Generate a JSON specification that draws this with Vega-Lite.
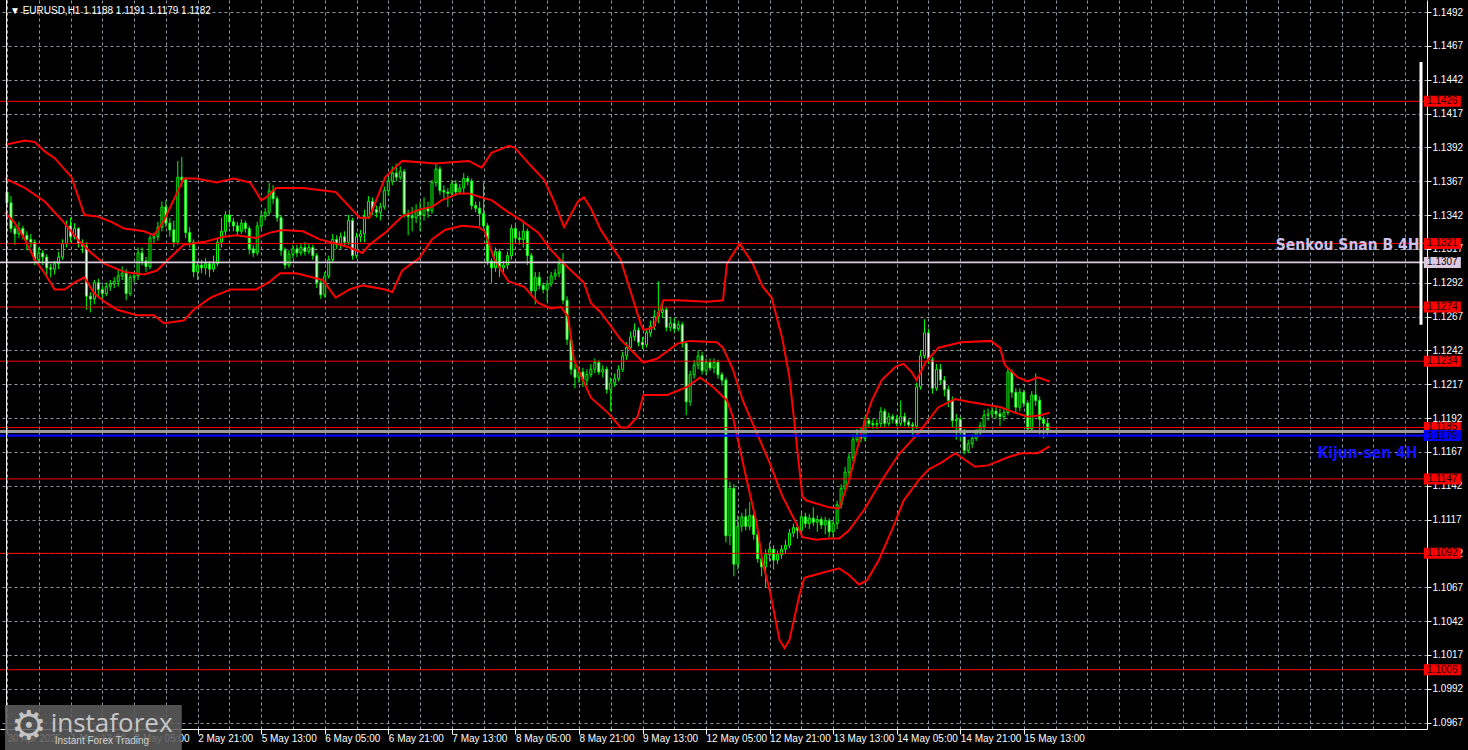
{
  "$schema": "https://vega.github.io/schema/vega-lite/v6.json",
  "width": 1427,
  "height": 729,
  "autosize": {"type": "none"},
  "padding": {"left": 0, "top": 0, "right": 41, "bottom": 21},
  "background": "#000000",
  "config": {
    "view": {"stroke": null},
    "axis": {"labelFont": "Liberation Sans", "labelFontSize": 10, "labelColor": "#ffffff", "domainColor": "#ffffff", "title": null, "labelOverlap": false}
  },
  "datasets": {
    "candles": [
      {"i":0,"o":1.1359,"h":1.1362,"l":1.1348,"c":1.1351},{"i":1,"o":1.1351,"h":1.1356,"l":1.1329,"c":1.1332},{"i":2,"o":1.1332,"h":1.1334,"l":1.132,"c":1.1328},{"i":3,"o":1.1328,"h":1.1337,"l":1.1325,"c":1.1332},{"i":4,"o":1.1332,"h":1.1334,"l":1.1324,"c":1.1327},{"i":5,"o":1.1327,"h":1.133,"l":1.1316,"c":1.1324},{"i":6,"o":1.1324,"h":1.1328,"l":1.1318,"c":1.1322},{"i":7,"o":1.1322,"h":1.1324,"l":1.1305,"c":1.1309},{"i":8,"o":1.1309,"h":1.1318,"l":1.1306,"c":1.1314},{"i":9,"o":1.1314,"h":1.1316,"l":1.1305,"c":1.1311},
      {"i":10,"o":1.1311,"h":1.1313,"l":1.1297,"c":1.1303},{"i":11,"o":1.1303,"h":1.1306,"l":1.1296,"c":1.1302},{"i":12,"o":1.1302,"h":1.1308,"l":1.1298,"c":1.1306},{"i":13,"o":1.1306,"h":1.1315,"l":1.1302,"c":1.1311},{"i":14,"o":1.1311,"h":1.1324,"l":1.1309,"c":1.1321},{"i":15,"o":1.1321,"h":1.1338,"l":1.1318,"c":1.1334},{"i":16,"o":1.1334,"h":1.134,"l":1.1322,"c":1.1326},{"i":17,"o":1.1326,"h":1.1336,"l":1.1324,"c":1.1332},{"i":18,"o":1.1332,"h":1.1333,"l":1.1318,"c":1.1321},{"i":19,"o":1.1321,"h":1.1324,"l":1.1314,"c":1.1319},
      {"i":20,"o":1.1319,"h":1.1322,"l":1.1272,"c":1.1282},{"i":21,"o":1.1282,"h":1.1285,"l":1.127,"c":1.128},{"i":22,"o":1.128,"h":1.1294,"l":1.1276,"c":1.1292},{"i":23,"o":1.1292,"h":1.1295,"l":1.1281,"c":1.1287},{"i":24,"o":1.1287,"h":1.129,"l":1.128,"c":1.1284},{"i":25,"o":1.1284,"h":1.1292,"l":1.1282,"c":1.1289},{"i":26,"o":1.1289,"h":1.1294,"l":1.1286,"c":1.1291},{"i":27,"o":1.1291,"h":1.1296,"l":1.1288,"c":1.1293},{"i":28,"o":1.1293,"h":1.1302,"l":1.1289,"c":1.1297},{"i":29,"o":1.1297,"h":1.1304,"l":1.1294,"c":1.1299},
      {"i":30,"o":1.1299,"h":1.1302,"l":1.1279,"c":1.1284},{"i":31,"o":1.1284,"h":1.1298,"l":1.1282,"c":1.1296},{"i":32,"o":1.1296,"h":1.13,"l":1.1292,"c":1.1297},{"i":33,"o":1.1297,"h":1.1318,"l":1.1294,"c":1.1314},{"i":34,"o":1.1314,"h":1.1318,"l":1.1305,"c":1.1308},{"i":35,"o":1.1308,"h":1.1311,"l":1.13,"c":1.1304},{"i":36,"o":1.1304,"h":1.1327,"l":1.1302,"c":1.1325},{"i":37,"o":1.1325,"h":1.1329,"l":1.1321,"c":1.1326},{"i":38,"o":1.1326,"h":1.1337,"l":1.1323,"c":1.1333},{"i":39,"o":1.1333,"h":1.1352,"l":1.133,"c":1.1348},
      {"i":40,"o":1.1348,"h":1.1353,"l":1.1333,"c":1.1336},{"i":41,"o":1.1336,"h":1.134,"l":1.1326,"c":1.1331},{"i":42,"o":1.1331,"h":1.1338,"l":1.1318,"c":1.1322},{"i":43,"o":1.1322,"h":1.1382,"l":1.132,"c":1.137},{"i":44,"o":1.137,"h":1.1385,"l":1.1363,"c":1.1368},{"i":45,"o":1.1368,"h":1.137,"l":1.1325,"c":1.1329},{"i":46,"o":1.1329,"h":1.1333,"l":1.1318,"c":1.1322},{"i":47,"o":1.1322,"h":1.1324,"l":1.1296,"c":1.13},{"i":48,"o":1.13,"h":1.1308,"l":1.1294,"c":1.1305},{"i":49,"o":1.1305,"h":1.1309,"l":1.1299,"c":1.1303},
      {"i":50,"o":1.1303,"h":1.131,"l":1.1298,"c":1.1306},{"i":51,"o":1.1306,"h":1.1308,"l":1.1296,"c":1.1302},{"i":52,"o":1.1302,"h":1.1312,"l":1.13,"c":1.1306},{"i":53,"o":1.1306,"h":1.1325,"l":1.1304,"c":1.1322},{"i":54,"o":1.1322,"h":1.134,"l":1.1318,"c":1.133},{"i":55,"o":1.133,"h":1.1345,"l":1.1327,"c":1.1342},{"i":56,"o":1.1342,"h":1.1346,"l":1.1333,"c":1.1337},{"i":57,"o":1.1337,"h":1.134,"l":1.133,"c":1.1334},{"i":58,"o":1.1334,"h":1.1337,"l":1.1327,"c":1.133},{"i":59,"o":1.133,"h":1.1339,"l":1.1328,"c":1.1336},
      {"i":60,"o":1.1336,"h":1.1338,"l":1.1329,"c":1.1332},{"i":61,"o":1.1332,"h":1.1334,"l":1.1313,"c":1.1317},{"i":62,"o":1.1317,"h":1.132,"l":1.1311,"c":1.1314},{"i":63,"o":1.1314,"h":1.1337,"l":1.1312,"c":1.1334},{"i":64,"o":1.1334,"h":1.1345,"l":1.1332,"c":1.1341},{"i":65,"o":1.1341,"h":1.1347,"l":1.1338,"c":1.1344},{"i":66,"o":1.1344,"h":1.1366,"l":1.1342,"c":1.136},{"i":67,"o":1.136,"h":1.1364,"l":1.135,"c":1.1354},{"i":68,"o":1.1354,"h":1.1356,"l":1.1337,"c":1.134},{"i":69,"o":1.134,"h":1.1342,"l":1.1312,"c":1.1316},
      {"i":70,"o":1.1316,"h":1.1318,"l":1.1302,"c":1.1305},{"i":71,"o":1.1305,"h":1.1316,"l":1.1303,"c":1.1313},{"i":72,"o":1.1313,"h":1.132,"l":1.131,"c":1.1317},{"i":73,"o":1.1317,"h":1.132,"l":1.1311,"c":1.1314},{"i":74,"o":1.1314,"h":1.1321,"l":1.1312,"c":1.1318},{"i":75,"o":1.1318,"h":1.1322,"l":1.1312,"c":1.1315},{"i":76,"o":1.1315,"h":1.1321,"l":1.1313,"c":1.1318},{"i":77,"o":1.1318,"h":1.132,"l":1.1309,"c":1.1312},{"i":78,"o":1.1312,"h":1.1314,"l":1.1288,"c":1.1292},{"i":79,"o":1.1292,"h":1.1295,"l":1.128,"c":1.1283},
      {"i":80,"o":1.1283,"h":1.13,"l":1.1281,"c":1.1297},{"i":81,"o":1.1297,"h":1.1312,"l":1.1295,"c":1.1309},{"i":82,"o":1.1309,"h":1.1328,"l":1.1307,"c":1.1324},{"i":83,"o":1.1324,"h":1.1327,"l":1.1317,"c":1.132},{"i":84,"o":1.132,"h":1.1329,"l":1.1317,"c":1.1326},{"i":85,"o":1.1326,"h":1.133,"l":1.1319,"c":1.1322},{"i":86,"o":1.1322,"h":1.1342,"l":1.132,"c":1.1338},{"i":87,"o":1.1338,"h":1.134,"l":1.1309,"c":1.1312},{"i":88,"o":1.1312,"h":1.1329,"l":1.131,"c":1.1326},{"i":89,"o":1.1326,"h":1.1331,"l":1.1322,"c":1.1328},
      {"i":90,"o":1.1328,"h":1.1346,"l":1.1322,"c":1.1341},{"i":91,"o":1.1341,"h":1.1356,"l":1.1339,"c":1.1352},{"i":92,"o":1.1352,"h":1.1355,"l":1.1342,"c":1.1346},{"i":93,"o":1.1346,"h":1.1349,"l":1.134,"c":1.1344},{"i":94,"o":1.1344,"h":1.1351,"l":1.1338,"c":1.1348},{"i":95,"o":1.1348,"h":1.1363,"l":1.1346,"c":1.136},{"i":96,"o":1.136,"h":1.137,"l":1.1356,"c":1.1367},{"i":97,"o":1.1367,"h":1.1378,"l":1.1364,"c":1.1373},{"i":98,"o":1.1373,"h":1.138,"l":1.1367,"c":1.137},{"i":99,"o":1.137,"h":1.1378,"l":1.1368,"c":1.1374},
      {"i":100,"o":1.1374,"h":1.1376,"l":1.134,"c":1.1343},{"i":101,"o":1.1343,"h":1.1346,"l":1.1327,"c":1.1341},{"i":102,"o":1.1341,"h":1.1348,"l":1.133,"c":1.134},{"i":103,"o":1.134,"h":1.135,"l":1.1336,"c":1.1345},{"i":104,"o":1.1345,"h":1.1352,"l":1.133,"c":1.1342},{"i":105,"o":1.1342,"h":1.1355,"l":1.1338,"c":1.1347},{"i":106,"o":1.1347,"h":1.1352,"l":1.134,"c":1.1345},{"i":107,"o":1.1345,"h":1.1368,"l":1.1343,"c":1.1366},{"i":108,"o":1.1366,"h":1.138,"l":1.1363,"c":1.1376},{"i":109,"o":1.1376,"h":1.1378,"l":1.1357,"c":1.136},
      {"i":110,"o":1.136,"h":1.1364,"l":1.1354,"c":1.1359},{"i":111,"o":1.1359,"h":1.1362,"l":1.1348,"c":1.1358},{"i":112,"o":1.1358,"h":1.1368,"l":1.1355,"c":1.1365},{"i":113,"o":1.1365,"h":1.1368,"l":1.1356,"c":1.1359},{"i":114,"o":1.1359,"h":1.1365,"l":1.1357,"c":1.1362},{"i":115,"o":1.1362,"h":1.1373,"l":1.1358,"c":1.1369},{"i":116,"o":1.1369,"h":1.1371,"l":1.1364,"c":1.1367},{"i":117,"o":1.1367,"h":1.1369,"l":1.1346,"c":1.1349},{"i":118,"o":1.1349,"h":1.1352,"l":1.1344,"c":1.1347},{"i":119,"o":1.1347,"h":1.1352,"l":1.1334,"c":1.1343},
      {"i":120,"o":1.1343,"h":1.1366,"l":1.1332,"c":1.1334},{"i":121,"o":1.1334,"h":1.1336,"l":1.1305,"c":1.1308},{"i":122,"o":1.1308,"h":1.131,"l":1.1292,"c":1.1303},{"i":123,"o":1.1303,"h":1.1318,"l":1.13,"c":1.1315},{"i":124,"o":1.1315,"h":1.1317,"l":1.1296,"c":1.1303},{"i":125,"o":1.1303,"h":1.1308,"l":1.13,"c":1.1305},{"i":126,"o":1.1305,"h":1.1315,"l":1.1302,"c":1.1312},{"i":127,"o":1.1312,"h":1.1335,"l":1.1309,"c":1.1332},{"i":128,"o":1.1332,"h":1.1336,"l":1.1322,"c":1.1325},{"i":129,"o":1.1325,"h":1.133,"l":1.132,"c":1.1324},
      {"i":130,"o":1.1324,"h":1.1336,"l":1.1318,"c":1.133},{"i":131,"o":1.133,"h":1.1332,"l":1.1305,"c":1.1312},{"i":132,"o":1.1312,"h":1.1314,"l":1.1282,"c":1.1286},{"i":133,"o":1.1286,"h":1.13,"l":1.1276,"c":1.1296},{"i":134,"o":1.1296,"h":1.13,"l":1.1287,"c":1.129},{"i":135,"o":1.129,"h":1.1292,"l":1.1284,"c":1.1287},{"i":136,"o":1.1287,"h":1.1294,"l":1.1278,"c":1.1291},{"i":137,"o":1.1291,"h":1.13,"l":1.1289,"c":1.1297},{"i":138,"o":1.1297,"h":1.1302,"l":1.1294,"c":1.1299},{"i":139,"o":1.1299,"h":1.131,"l":1.1296,"c":1.1306},
      {"i":140,"o":1.1306,"h":1.1314,"l":1.1276,"c":1.1279},{"i":141,"o":1.1279,"h":1.1282,"l":1.1246,"c":1.125},{"i":142,"o":1.125,"h":1.1253,"l":1.1224,"c":1.1228},{"i":143,"o":1.1228,"h":1.1232,"l":1.1214,"c":1.1222},{"i":144,"o":1.1222,"h":1.123,"l":1.1218,"c":1.1226},{"i":145,"o":1.1226,"h":1.1229,"l":1.1215,"c":1.122},{"i":146,"o":1.122,"h":1.1228,"l":1.1216,"c":1.1224},{"i":147,"o":1.1224,"h":1.1232,"l":1.1222,"c":1.1228},{"i":148,"o":1.1228,"h":1.1236,"l":1.1225,"c":1.1233},{"i":149,"o":1.1233,"h":1.1235,"l":1.1224,"c":1.1226},
      {"i":150,"o":1.1226,"h":1.1231,"l":1.1222,"c":1.1228},{"i":151,"o":1.1228,"h":1.123,"l":1.121,"c":1.1213},{"i":152,"o":1.1213,"h":1.1222,"l":1.1197,"c":1.1218},{"i":153,"o":1.1218,"h":1.1225,"l":1.1215,"c":1.1221},{"i":154,"o":1.1221,"h":1.1231,"l":1.1219,"c":1.1228},{"i":155,"o":1.1228,"h":1.1241,"l":1.1226,"c":1.1238},{"i":156,"o":1.1238,"h":1.1248,"l":1.1235,"c":1.1244},{"i":157,"o":1.1244,"h":1.1256,"l":1.1242,"c":1.1252},{"i":158,"o":1.1252,"h":1.1262,"l":1.1249,"c":1.1257},{"i":159,"o":1.1257,"h":1.1259,"l":1.1245,"c":1.1248},
      {"i":160,"o":1.1248,"h":1.1252,"l":1.1243,"c":1.1246},{"i":161,"o":1.1246,"h":1.1258,"l":1.1244,"c":1.1255},{"i":162,"o":1.1255,"h":1.1264,"l":1.1252,"c":1.126},{"i":163,"o":1.126,"h":1.1272,"l":1.1257,"c":1.1267},{"i":164,"o":1.1267,"h":1.1293,"l":1.1262,"c":1.127},{"i":165,"o":1.127,"h":1.1276,"l":1.1266,"c":1.1272},{"i":166,"o":1.1272,"h":1.1274,"l":1.1256,"c":1.1259},{"i":167,"o":1.1259,"h":1.1266,"l":1.1256,"c":1.1262},{"i":168,"o":1.1262,"h":1.1266,"l":1.1255,"c":1.1258},{"i":169,"o":1.1258,"h":1.1264,"l":1.1256,"c":1.1261},
      {"i":170,"o":1.1261,"h":1.1263,"l":1.1244,"c":1.1247},{"i":171,"o":1.1247,"h":1.1249,"l":1.1194,"c":1.1204},{"i":172,"o":1.1204,"h":1.1227,"l":1.1201,"c":1.1224},{"i":173,"o":1.1224,"h":1.1235,"l":1.1221,"c":1.1231},{"i":174,"o":1.1231,"h":1.1242,"l":1.1228,"c":1.1238},{"i":175,"o":1.1238,"h":1.1241,"l":1.1224,"c":1.1227},{"i":176,"o":1.1227,"h":1.1236,"l":1.1224,"c":1.1233},{"i":177,"o":1.1233,"h":1.1236,"l":1.1227,"c":1.1229},{"i":178,"o":1.1229,"h":1.1236,"l":1.1225,"c":1.1233},{"i":179,"o":1.1233,"h":1.1235,"l":1.1221,"c":1.1224},
      {"i":180,"o":1.1224,"h":1.1226,"l":1.1216,"c":1.122},{"i":181,"o":1.122,"h":1.1222,"l":1.11,"c":1.1105},{"i":182,"o":1.1105,"h":1.1145,"l":1.1098,"c":1.114},{"i":183,"o":1.114,"h":1.1143,"l":1.1075,"c":1.1084},{"i":184,"o":1.1084,"h":1.112,"l":1.108,"c":1.1112},{"i":185,"o":1.1112,"h":1.1122,"l":1.1108,"c":1.1119},{"i":186,"o":1.1119,"h":1.1125,"l":1.1109,"c":1.1112},{"i":187,"o":1.1112,"h":1.113,"l":1.1109,"c":1.112},{"i":188,"o":1.112,"h":1.1122,"l":1.1102,"c":1.1106},{"i":189,"o":1.1106,"h":1.1108,"l":1.1085,"c":1.1088},
      {"i":190,"o":1.1088,"h":1.109,"l":1.1075,"c":1.1082},{"i":191,"o":1.1082,"h":1.1095,"l":1.1067,"c":1.1091},{"i":192,"o":1.1091,"h":1.11,"l":1.1086,"c":1.1095},{"i":193,"o":1.1095,"h":1.1098,"l":1.108,"c":1.1087},{"i":194,"o":1.1087,"h":1.1094,"l":1.1084,"c":1.1091},{"i":195,"o":1.1091,"h":1.1098,"l":1.1088,"c":1.1095},{"i":196,"o":1.1095,"h":1.1102,"l":1.1092,"c":1.1098},{"i":197,"o":1.1098,"h":1.111,"l":1.1096,"c":1.1107},{"i":198,"o":1.1107,"h":1.1114,"l":1.1104,"c":1.1111},{"i":199,"o":1.1111,"h":1.1114,"l":1.1103,"c":1.1109},
      {"i":200,"o":1.1109,"h":1.1122,"l":1.1106,"c":1.1119},{"i":201,"o":1.1119,"h":1.1122,"l":1.1111,"c":1.1114},{"i":202,"o":1.1114,"h":1.1121,"l":1.111,"c":1.1118},{"i":203,"o":1.1118,"h":1.1126,"l":1.1112,"c":1.1115},{"i":204,"o":1.1115,"h":1.112,"l":1.1108,"c":1.1117},{"i":205,"o":1.1117,"h":1.1119,"l":1.111,"c":1.1113},{"i":206,"o":1.1113,"h":1.1119,"l":1.1106,"c":1.1116},{"i":207,"o":1.1116,"h":1.1118,"l":1.1104,"c":1.1108},{"i":208,"o":1.1108,"h":1.1117,"l":1.1104,"c":1.1114},{"i":209,"o":1.1114,"h":1.1131,"l":1.111,"c":1.1128},
      {"i":210,"o":1.1128,"h":1.1143,"l":1.1125,"c":1.114},{"i":211,"o":1.114,"h":1.1156,"l":1.1137,"c":1.1152},{"i":212,"o":1.1152,"h":1.1166,"l":1.1148,"c":1.1163},{"i":213,"o":1.1163,"h":1.118,"l":1.116,"c":1.1176},{"i":214,"o":1.1176,"h":1.1184,"l":1.1174,"c":1.118},{"i":215,"o":1.118,"h":1.1185,"l":1.1174,"c":1.1177},{"i":216,"o":1.1177,"h":1.1193,"l":1.1175,"c":1.119},{"i":217,"o":1.119,"h":1.1192,"l":1.1185,"c":1.1188},{"i":218,"o":1.1188,"h":1.1191,"l":1.1184,"c":1.1187},{"i":219,"o":1.1187,"h":1.1191,"l":1.1184,"c":1.1188},
      {"i":220,"o":1.1188,"h":1.12,"l":1.1185,"c":1.1197},{"i":221,"o":1.1197,"h":1.1199,"l":1.1185,"c":1.1188},{"i":222,"o":1.1188,"h":1.1196,"l":1.1186,"c":1.1193},{"i":223,"o":1.1193,"h":1.1195,"l":1.1188,"c":1.1191},{"i":224,"o":1.1191,"h":1.1194,"l":1.1186,"c":1.1188},{"i":225,"o":1.1188,"h":1.1205,"l":1.1186,"c":1.1193},{"i":226,"o":1.1193,"h":1.1196,"l":1.1186,"c":1.1189},{"i":227,"o":1.1189,"h":1.1191,"l":1.1185,"c":1.1187},{"i":228,"o":1.1187,"h":1.1189,"l":1.1178,"c":1.1186},{"i":229,"o":1.1186,"h":1.1218,"l":1.1184,"c":1.1215},
      {"i":230,"o":1.1215,"h":1.1242,"l":1.1213,"c":1.1238},{"i":231,"o":1.1238,"h":1.1265,"l":1.1236,"c":1.1255},{"i":232,"o":1.1255,"h":1.1258,"l":1.1232,"c":1.1235},{"i":233,"o":1.1235,"h":1.1237,"l":1.121,"c":1.1214},{"i":234,"o":1.1214,"h":1.1232,"l":1.1212,"c":1.1228},{"i":235,"o":1.1228,"h":1.1232,"l":1.1217,"c":1.122},{"i":236,"o":1.122,"h":1.1223,"l":1.1208,"c":1.1213},{"i":237,"o":1.1213,"h":1.1216,"l":1.12,"c":1.1205},{"i":238,"o":1.1205,"h":1.1208,"l":1.1185,"c":1.119},{"i":239,"o":1.119,"h":1.1195,"l":1.1176,"c":1.1191},
      {"i":240,"o":1.1191,"h":1.1193,"l":1.1175,"c":1.1182},{"i":241,"o":1.1182,"h":1.1184,"l":1.1165,"c":1.1168},{"i":242,"o":1.1168,"h":1.1176,"l":1.1166,"c":1.1173},{"i":243,"o":1.1173,"h":1.118,"l":1.117,"c":1.1177},{"i":244,"o":1.1177,"h":1.1184,"l":1.1175,"c":1.1181},{"i":245,"o":1.1181,"h":1.1189,"l":1.1179,"c":1.1186},{"i":246,"o":1.1186,"h":1.1198,"l":1.1183,"c":1.1194},{"i":247,"o":1.1194,"h":1.1199,"l":1.119,"c":1.1195},{"i":248,"o":1.1195,"h":1.12,"l":1.1192,"c":1.1197},{"i":249,"o":1.1197,"h":1.12,"l":1.1191,"c":1.1195},
      {"i":250,"o":1.1195,"h":1.1199,"l":1.1186,"c":1.1193},{"i":251,"o":1.1193,"h":1.1199,"l":1.119,"c":1.1196},{"i":252,"o":1.1196,"h":1.1229,"l":1.1194,"c":1.1226},{"i":253,"o":1.1226,"h":1.1228,"l":1.1207,"c":1.1211},{"i":254,"o":1.1211,"h":1.1214,"l":1.1196,"c":1.12},{"i":255,"o":1.12,"h":1.1214,"l":1.1197,"c":1.1211},{"i":256,"o":1.1211,"h":1.1213,"l":1.12,"c":1.1203},{"i":257,"o":1.1203,"h":1.1205,"l":1.1181,"c":1.1184},{"i":258,"o":1.1184,"h":1.1212,"l":1.1182,"c":1.1209},{"i":259,"o":1.1209,"h":1.1225,"l":1.1201,"c":1.1205},
      {"i":260,"o":1.1205,"h":1.1208,"l":1.118,"c":1.1191},{"i":261,"o":1.1191,"h":1.1193,"l":1.1177,"c":1.1188},{"i":262,"o":1.1188,"h":1.1191,"l":1.1179,"c":1.1182}
    ],
    "bands": [
      {"band":"upper","i":-0.5,"p":1.1394},{"band":"upper","i":4.5,"p":1.1397},{"band":"upper","i":7,"p":1.1396},{"band":"upper","i":9.5,"p":1.1389},{"band":"upper","i":12,"p":1.1384},{"band":"upper","i":16.25,"p":1.137},{"band":"upper","i":19.5,"p":1.1342},{"band":"upper","i":22.75,"p":1.1341},{"band":"upper","i":26.25,"p":1.1337},{"band":"upper","i":29.5,"p":1.1332},{"band":"upper","i":34.5,"p":1.133},{"band":"upper","i":37,"p":1.1327},{"band":"upper","i":39.5,"p":1.1338},{"band":"upper","i":42.75,"p":1.1358},{"band":"upper","i":44.5,"p":1.1369},{"band":"upper","i":47.75,"p":1.1369},{"band":"upper","i":52.75,"p":1.1366},{"band":"upper","i":57,"p":1.1369},{"band":"upper","i":61.25,"p":1.1366},{"band":"upper","i":64,"p":1.1353},{"band":"upper","i":65.25,"p":1.1355},{"band":"upper","i":67.75,"p":1.1362},{"band":"upper","i":74.5,"p":1.1362},{"band":"upper","i":82.75,"p":1.1359},{"band":"upper","i":86.25,"p":1.1348},{"band":"upper","i":88.75,"p":1.134},{"band":"upper","i":91.25,"p":1.134},{"band":"upper","i":95.25,"p":1.137},{"band":"upper","i":99.5,"p":1.1382},{"band":"upper","i":107.75,"p":1.138},{"band":"upper","i":116.25,"p":1.1382},{"band":"upper","i":119.5,"p":1.1377},{"band":"upper","i":122,"p":1.1388},{"band":"upper","i":126.25,"p":1.1393},{"band":"upper","i":127.75,"p":1.1392},{"band":"upper","i":132,"p":1.1378},{"band":"upper","i":135.25,"p":1.1368},{"band":"upper","i":137.75,"p":1.1352},{"band":"upper","i":140.25,"p":1.1333},{"band":"upper","i":143.75,"p":1.1352},{"band":"upper","i":145.25,"p":1.1355},{"band":"upper","i":147,"p":1.1347},{"band":"upper","i":149.5,"p":1.1331},{"band":"upper","i":154.5,"p":1.1309},{"band":"upper","i":159.5,"p":1.1262},{"band":"upper","i":160.25,"p":1.1257},{"band":"upper","i":162.75,"p":1.1259},{"band":"upper","i":165.25,"p":1.1279},{"band":"upper","i":168.75,"p":1.1279},{"band":"upper","i":176.25,"p":1.1278},{"band":"upper","i":180.25,"p":1.1279},{"band":"upper","i":181.25,"p":1.1306},{"band":"upper","i":184.5,"p":1.1321},{"band":"upper","i":187.75,"p":1.1306},{"band":"upper","i":190.25,"p":1.1289},{"band":"upper","i":192.5,"p":1.1281},{"band":"upper","i":195.25,"p":1.125},{"band":"upper","i":197,"p":1.1222},{"band":"upper","i":200.25,"p":1.1134},{"band":"upper","i":201.25,"p":1.1131},{"band":"upper","i":207,"p":1.1126},{"band":"upper","i":209.5,"p":1.1125},{"band":"upper","i":212,"p":1.1146},{"band":"upper","i":215.25,"p":1.1183},{"band":"upper","i":217.75,"p":1.1205},{"band":"upper","i":220.25,"p":1.122},{"band":"upper","i":223.75,"p":1.123},{"band":"upper","i":225.75,"p":1.1232},{"band":"upper","i":227.75,"p":1.1226},{"band":"upper","i":229,"p":1.122},{"band":"upper","i":231.25,"p":1.1233},{"band":"upper","i":234.5,"p":1.1244},{"band":"upper","i":240.25,"p":1.1248},{"band":"upper","i":247.75,"p":1.1249},{"band":"upper","i":250,"p":1.1244},{"band":"upper","i":251.25,"p":1.1231},{"band":"upper","i":254.5,"p":1.1222},{"band":"upper","i":257,"p":1.1219},{"band":"upper","i":259.5,"p":1.1222},{"band":"upper","i":262.5,"p":1.1219},
      {"band":"middle","i":-0.5,"p":1.1369},{"band":"middle","i":4.5,"p":1.1362},{"band":"middle","i":9.5,"p":1.1352},{"band":"middle","i":14.5,"p":1.1336},{"band":"middle","i":17.75,"p":1.1324},{"band":"middle","i":21.25,"p":1.1314},{"band":"middle","i":24.5,"p":1.1306},{"band":"middle","i":29.5,"p":1.13},{"band":"middle","i":34.5,"p":1.1298},{"band":"middle","i":37.75,"p":1.1301},{"band":"middle","i":41.25,"p":1.1311},{"band":"middle","i":44.5,"p":1.132},{"band":"middle","i":49.5,"p":1.1322},{"band":"middle","i":54.5,"p":1.1326},{"band":"middle","i":57.75,"p":1.1327},{"band":"middle","i":62.75,"p":1.1325},{"band":"middle","i":66.25,"p":1.1329},{"band":"middle","i":69.5,"p":1.1331},{"band":"middle","i":74.5,"p":1.133},{"band":"middle","i":78.75,"p":1.1324},{"band":"middle","i":82.75,"p":1.1321},{"band":"middle","i":86.25,"p":1.1318},{"band":"middle","i":89.5,"p":1.1314},{"band":"middle","i":91.25,"p":1.132},{"band":"middle","i":95.25,"p":1.1329},{"band":"middle","i":99.5,"p":1.1341},{"band":"middle","i":103.75,"p":1.1346},{"band":"middle","i":107,"p":1.1348},{"band":"middle","i":109.5,"p":1.1353},{"band":"middle","i":113.75,"p":1.1358},{"band":"middle","i":116.25,"p":1.1358},{"band":"middle","i":119.5,"p":1.1355},{"band":"middle","i":122,"p":1.1353},{"band":"middle","i":126.25,"p":1.1344},{"band":"middle","i":129.5,"p":1.1338},{"band":"middle","i":133.75,"p":1.1329},{"band":"middle","i":137,"p":1.1316},{"band":"middle","i":140.25,"p":1.1306},{"band":"middle","i":145.25,"p":1.1292},{"band":"middle","i":147,"p":1.1277},{"band":"middle","i":149.5,"p":1.127},{"band":"middle","i":154.5,"p":1.125},{"band":"middle","i":160.25,"p":1.1233},{"band":"middle","i":163.75,"p":1.1236},{"band":"middle","i":168.75,"p":1.1247},{"band":"middle","i":172,"p":1.1249},{"band":"middle","i":178.75,"p":1.1248},{"band":"middle","i":180.25,"p":1.1244},{"band":"middle","i":182.75,"p":1.1228},{"band":"middle","i":185.25,"p":1.1205},{"band":"middle","i":188.75,"p":1.1181},{"band":"middle","i":192,"p":1.1159},{"band":"middle","i":195.25,"p":1.1134},{"band":"middle","i":198.75,"p":1.1114},{"band":"middle","i":200.25,"p":1.1104},{"band":"middle","i":203.75,"p":1.1102},{"band":"middle","i":207,"p":1.1103},{"band":"middle","i":209.5,"p":1.1103},{"band":"middle","i":212,"p":1.1109},{"band":"middle","i":215.75,"p":1.1124},{"band":"middle","i":220.25,"p":1.1146},{"band":"middle","i":224.5,"p":1.1165},{"band":"middle","i":229.5,"p":1.1181},{"band":"middle","i":234.5,"p":1.12},{"band":"middle","i":238.75,"p":1.1206},{"band":"middle","i":242,"p":1.1204},{"band":"middle","i":246.25,"p":1.1202},{"band":"middle","i":250.25,"p":1.12},{"band":"middle","i":253.75,"p":1.1196},{"band":"middle","i":257,"p":1.1193},{"band":"middle","i":260.25,"p":1.1194},{"band":"middle","i":262.5,"p":1.1196},
      {"band":"lower","i":-0.5,"p":1.1344},{"band":"lower","i":2,"p":1.1336},{"band":"lower","i":4.5,"p":1.1324},{"band":"lower","i":7,"p":1.1309},{"band":"lower","i":9.5,"p":1.1299},{"band":"lower","i":12,"p":1.1287},{"band":"lower","i":14.5,"p":1.1287},{"band":"lower","i":17,"p":1.1292},{"band":"lower","i":19.5,"p":1.1296},{"band":"lower","i":22,"p":1.1284},{"band":"lower","i":24.5,"p":1.1278},{"band":"lower","i":27.75,"p":1.1272},{"band":"lower","i":32.75,"p":1.1268},{"band":"lower","i":37,"p":1.1268},{"band":"lower","i":39.5,"p":1.1262},{"band":"lower","i":44.5,"p":1.1264},{"band":"lower","i":47,"p":1.1272},{"band":"lower","i":51.25,"p":1.1281},{"band":"lower","i":56.25,"p":1.1287},{"band":"lower","i":62.75,"p":1.1287},{"band":"lower","i":66.25,"p":1.1293},{"band":"lower","i":68.75,"p":1.1299},{"band":"lower","i":72.75,"p":1.1299},{"band":"lower","i":79.5,"p":1.1294},{"band":"lower","i":82.75,"p":1.1281},{"band":"lower","i":86.25,"p":1.1287},{"band":"lower","i":89.5,"p":1.129},{"band":"lower","i":95.25,"p":1.1287},{"band":"lower","i":97,"p":1.1285},{"band":"lower","i":99.5,"p":1.1301},{"band":"lower","i":103.75,"p":1.131},{"band":"lower","i":107,"p":1.1324},{"band":"lower","i":110.25,"p":1.1331},{"band":"lower","i":114.5,"p":1.1334},{"band":"lower","i":118.75,"p":1.1333},{"band":"lower","i":120.25,"p":1.133},{"band":"lower","i":122.75,"p":1.1309},{"band":"lower","i":126.25,"p":1.1293},{"band":"lower","i":130.25,"p":1.1289},{"band":"lower","i":133.75,"p":1.1277},{"band":"lower","i":137,"p":1.1273},{"band":"lower","i":139.5,"p":1.1274},{"band":"lower","i":141.25,"p":1.1267},{"band":"lower","i":142.75,"p":1.1235},{"band":"lower","i":147,"p":1.1207},{"band":"lower","i":151.25,"p":1.1196},{"band":"lower","i":154.5,"p":1.1185},{"band":"lower","i":156.25,"p":1.1185},{"band":"lower","i":158.75,"p":1.1193},{"band":"lower","i":160.25,"p":1.1209},{"band":"lower","i":166.25,"p":1.1209},{"band":"lower","i":171.25,"p":1.1215},{"band":"lower","i":174.5,"p":1.1222},{"band":"lower","i":177.75,"p":1.1215},{"band":"lower","i":181.25,"p":1.1205},{"band":"lower","i":182.75,"p":1.1193},{"band":"lower","i":186.25,"p":1.1146},{"band":"lower","i":188.75,"p":1.1114},{"band":"lower","i":190.25,"p":1.1085},{"band":"lower","i":192,"p":1.1065},{"band":"lower","i":194.5,"p":1.1028},{"band":"lower","i":195.75,"p":1.1022},{"band":"lower","i":197,"p":1.1028},{"band":"lower","i":199.5,"p":1.1061},{"band":"lower","i":200.75,"p":1.1074},{"band":"lower","i":203.25,"p":1.1076},{"band":"lower","i":209.5,"p":1.1081},{"band":"lower","i":212,"p":1.1076},{"band":"lower","i":214.5,"p":1.1069},{"band":"lower","i":216.5,"p":1.1072},{"band":"lower","i":219.5,"p":1.1087},{"band":"lower","i":222.75,"p":1.1109},{"band":"lower","i":225.75,"p":1.1131},{"band":"lower","i":229.5,"p":1.1146},{"band":"lower","i":232,"p":1.1154},{"band":"lower","i":235.25,"p":1.1159},{"band":"lower","i":238.75,"p":1.1166},{"band":"lower","i":240.25,"p":1.1163},{"band":"lower","i":243.75,"p":1.1156},{"band":"lower","i":247,"p":1.1157},{"band":"lower","i":252,"p":1.1163},{"band":"lower","i":255.25,"p":1.1166},{"band":"lower","i":259.5,"p":1.1166},{"band":"lower","i":262.5,"p":1.1171}
    ],
    "levels": [
      {"p":1.1426,"kind":"level"},
      {"p":1.1321,"kind":"level"},
      {"p":1.1274,"kind":"level"},
      {"p":1.1234,"kind":"level"},
      {"p":1.1185,"kind":"level"},
      {"p":1.1147,"kind":"level"},
      {"p":1.1092,"kind":"level"},
      {"p":1.1006,"kind":"level"},
      {"p":1.1307,"kind":"senkou","name":"Senkou Snan B 4H"},
      {"p":1.1182,"kind":"last"},
      {"p":1.1179,"kind":"kijun","name":"Kijun-sen 4H"}
    ]
  },
  "layer": [
    {
      "data": {"name": "candles"},
      "mark": {"type": "rule", "color": "#00ff00", "strokeWidth": 1},
      "encoding": {
        "x": {
          "field": "i", "type": "quantitative", "title": null,
          "scale": {"domain": [-0.5, 356.25], "nice": false, "zero": false},
          "axis": {
            "orient": "bottom",
            "values": [0,8,16,24,32,40,48,56,64,72,80,88,96,104,112,120,128,136,144,152,160,168,176,184,192,200,208,216,224,232,240,248,256,264,272,280,288,296,304,312,320,328,336,344,352],
            "tickCount": 100,
            "labelExpr": "datum.value % 16 === 0 && datum.value <= 256 ? ['30 Apr 2025','1 May 13:00','2 May 05:00','2 May 21:00','5 May 13:00','6 May 05:00','6 May 21:00','7 May 13:00','8 May 05:00','8 May 21:00','9 May 13:00','12 May 05:00','12 May 21:00','13 May 13:00','14 May 05:00','14 May 21:00','15 May 13:00'][datum.value / 16] : ''",
            "labelAlign": "left", "labelBaseline": "top", "labelPadding": -1, "labelOverlap": false, "labelFlush": false, "labelBound": false,
            "tickSize": 5,
            "tickColor": {"condition": {"test": "datum.value % 16 === 0 && datum.value <= 256", "value": "#ffffff"}, "value": "transparent"},
            "grid": true, "gridColor": "#8d98a4", "gridDash": [3, 3], "gridWidth": 1,
            "domainColor": "#ffffff"
          }
        },
        "y": {
          "field": "l", "type": "quantitative", "title": null,
          "scale": {"domain": [1.09622, 1.15009], "nice": false, "zero": false},
          "axis": {
            "orient": "right",
            "values": [1.0967,1.0992,1.1017,1.1042,1.1067,1.1092,1.1117,1.1142,1.1167,1.1192,1.1217,1.1242,1.1267,1.1292,1.1317,1.1342,1.1367,1.1392,1.1417,1.1442,1.1467,1.1492],
            "tickCount": 100,
            "format": ".4f", "tickSize": 4, "tickColor": "#ffffff", "labelPadding": 1, "labelOverlap": false, "labelFlush": false, "labelBound": false,
            "grid": true, "gridColor": "#8d98a4", "gridDash": [3, 3], "gridWidth": 1,
            "domainColor": "#ffffff"
          }
        },
        "y2": {"field": "h"}
      }
    },
    {
      "data": {"name": "candles"},
      "mark": {"type": "bar", "width": 2, "stroke": "#00ff00", "strokeWidth": 1},
      "encoding": {
        "x": {"field": "i", "type": "quantitative", "title": null},
        "y": {"field": "o", "type": "quantitative", "title": null},
        "y2": {"field": "c"},
        "fill": {"condition": {"test": "datum.c < datum.o", "value": "#ffffff"}, "value": "#000000"}
      }
    },
    {
      "data": {"name": "bands"},
      "mark": {"type": "line", "color": "#ff0000", "strokeWidth": 2},
      "encoding": {
        "x": {"field": "i", "type": "quantitative", "title": null},
        "y": {"field": "p", "type": "quantitative", "title": null},
        "detail": {"field": "band"}
      }
    },
    {
      "data": {"name": "levels"},
      "mark": {"type": "rule"},
      "encoding": {
        "y": {"field": "p", "type": "quantitative", "title": null},
        "color": {"field": "kind", "type": "nominal", "legend": null,
          "scale": {"domain": ["level","senkou","kijun","last"], "range": ["#ff0000","#dccbe0","#0000ff","#9a9a9a"]}},
        "strokeWidth": {"field": "kind", "type": "nominal", "legend": null,
          "scale": {"domain": ["level","senkou","kijun","last"], "range": [1, 3, 4, 1]}}
      }
    },
    {
      "data": {"name": "levels"},
      "transform": [{"filter": "datum.kind !== 'last'"}],
      "mark": {"type": "tick", "orient": "horizontal", "size": 37, "thickness": 11, "opacity": 1, "clip": false},
      "encoding": {
        "x": {"datum": 361.375, "type": "quantitative"},
        "y": {"field": "p", "type": "quantitative", "title": null},
        "color": {"field": "kind", "type": "nominal", "legend": null}
      }
    },
    {
      "data": {"name": "levels"},
      "transform": [{"filter": "datum.kind !== 'last'"}],
      "mark": {"type": "text", "font": "Liberation Sans", "fontSize": 10, "color": "#1a0000", "align": "center", "baseline": "middle", "clip": false},
      "encoding": {
        "x": {"datum": 361.375, "type": "quantitative"},
        "y": {"field": "p", "type": "quantitative", "title": null},
        "text": {"field": "p", "type": "quantitative", "format": ".4f"}
      }
    },
    {
      "data": {"name": "levels"},
      "transform": [{"filter": "datum.kind === 'senkou'"}],
      "mark": {"type": "text", "font": "DejaVu Sans Condensed, DejaVu Sans", "fontWeight": "bold", "fontSize": 15.5, "color": "#cbc1ea", "align": "center", "baseline": "middle", "dy": -17},
      "encoding": {
        "x": {"datum": 337.5, "type": "quantitative"},
        "y": {"field": "p", "type": "quantitative", "title": null},
        "text": {"field": "name"}
      }
    },
    {
      "data": {"name": "levels"},
      "transform": [{"filter": "datum.kind === 'kijun'"}],
      "mark": {"type": "text", "font": "DejaVu Sans Condensed, DejaVu Sans", "fontWeight": "bold", "fontSize": 15.5, "color": "#1414ff", "align": "center", "baseline": "middle", "dy": 17},
      "encoding": {
        "x": {"datum": 342.5, "type": "quantitative"},
        "y": {"field": "p", "type": "quantitative", "title": null},
        "text": {"field": "name"}
      }
    },
    {
      "data": {"values": [{}]},
      "mark": {"type": "rule", "color": "#ffffff", "strokeWidth": 1},
      "encoding": {"x": {"datum": -0.1, "type": "quantitative"}}
    },
    {
      "data": {"values": [{}]},
      "mark": {"type": "rule", "color": "#ffffff", "strokeWidth": 3, "clip": false},
      "encoding": {
        "x": {"datum": 356.0, "type": "quantitative"},
        "y": {"datum": 1.1455, "type": "quantitative"},
        "y2": {"datum": 1.1261}
      }
    },
    {
      "data": {"values": [{}]},
      "mark": {"type": "text", "font": "Liberation Sans", "fontSize": 10, "color": "#ffffff", "align": "left", "baseline": "alphabetic"},
      "encoding": {
        "x": {"datum": 0.75, "type": "quantitative"},
        "y": {"datum": 1.14906, "type": "quantitative"},
        "text": {"value": "▼  EURUSD,H1  1.1188 1.1191 1.1179 1.1182"}
      }
    },
    {
      "data": {"values": [{}]},
      "mark": {"type": "rect", "color": "#5c5c5c", "opacity": 0.88, "clip": false},
      "encoding": {
        "x": {"datum": -0.5, "type": "quantitative"},
        "x2": {"datum": 44},
        "y": {"datum": 1.09799, "type": "quantitative"},
        "y2": {"datum": 1.09467}
      }
    },
    {
      "data": {"values": [{}]},
      "mark": {"type": "text", "font": "DejaVu Sans", "fontSize": 40, "color": "#c4c4c4", "align": "center", "baseline": "middle", "clip": false},
      "encoding": {
        "x": {"datum": 5.5, "type": "quantitative"},
        "y": {"datum": 1.09637, "type": "quantitative"},
        "text": {"value": "⚙"}
      }
    },
    {
      "data": {"values": [{}]},
      "mark": {"type": "text", "font": "Open Sans", "fontSize": 26, "color": "#c8c8c8", "align": "left", "baseline": "alphabetic", "clip": false},
      "encoding": {
        "x": {"datum": 11, "type": "quantitative"},
        "y": {"datum": 1.096, "type": "quantitative"},
        "text": {"value": "instaforex"}
      }
    },
    {
      "data": {"values": [{}]},
      "mark": {"type": "text", "font": "Liberation Sans", "fontSize": 10, "color": "#d0d0d0", "align": "left", "baseline": "alphabetic", "clip": false},
      "encoding": {
        "x": {"datum": 12, "type": "quantitative"},
        "y": {"datum": 1.09511, "type": "quantitative"},
        "text": {"value": "Instant Forex Trading"}
      }
    }
  ]
}
